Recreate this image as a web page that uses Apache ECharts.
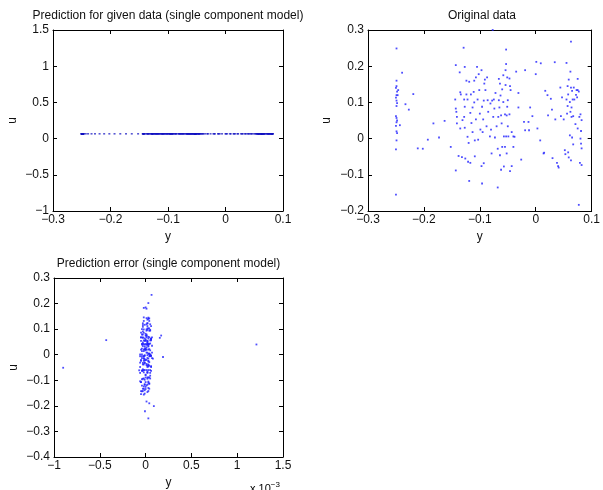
<!DOCTYPE html>
<html>
<head>
<meta charset="utf-8">
<script src="https://cdn.jsdelivr.net/npm/echarts@6/dist/echarts.min.js"></script>
<style>
  html, body { margin: 0; padding: 0; background: #fff; }
  #chart { width: 603px; height: 490px; }
</style>
</head>
<body>
<div id="chart"></div>
<script>
// Measured samples, one row per sample: [y, u, y prediction error (x 1e-3)]
const samplesLeft = [
  [-0.249, 0.249, -0.02], [-0.249, 0.160, 0.04], [-0.249, 0.145, -0.03], [-0.250, 0.140, 0.01],
  [-0.248, 0.130, 0.06], [-0.249, 0.120, -0.05], [-0.250, 0.113, 0.02], [-0.249, 0.105, -0.01],
  [-0.248, 0.098, 0.03], [-0.249, 0.090, -0.04], [-0.250, 0.062, 0.05], [-0.249, 0.057, 0.19],
  [-0.248, 0.050, -0.02], [-0.249, 0.045, 0.00], [-0.250, 0.035, -0.06], [-0.249, 0.020, 0.03],
  [-0.248, 0.015, -0.90], [-0.249, -0.005, 0.02], [-0.250, -0.030, -0.04], [-0.250, -0.155, -0.007],
  [-0.246, 0.134, 0.07], [-0.247, 0.120, -0.01], [-0.243, 0.037, 0.04], [-0.239, 0.182, -0.03],
  [-0.233, 0.095, 0.01], [-0.227, 0.080, -0.02], [-0.219, 0.123, -0.43], [-0.211, -0.027, 0.05],
  [-0.202, -0.028, -0.03], [-0.193, -0.003, 0.02], [-0.183, 0.042, -0.05], [-0.173, 0.003, 0.06],
  [-0.163, 0.049, -0.01], [-0.152, -0.023, 0.03]
];

const samplesMid = [
  [-0.143, 0.203, 0.02], [-0.144, 0.108, -0.04], [-0.143, 0.083, 0.05], [-0.142, 0.074, 0.01],
  [-0.141, 0.060, -0.02], [-0.141, 0.042, 0.03], [-0.143, -0.088, -0.05], [-0.138, -0.048, 0.04],
  [-0.136, 0.183, -0.01], [-0.135, 0.128, 0.06], [-0.134, 0.122, 0.00], [-0.135, 0.028, -0.03],
  [-0.132, -0.051, 0.02], [-0.131, 0.051, 0.08], [-0.129, 0.251, 0.00], [-0.128, 0.060, -0.06],
  [-0.128, 0.108, 0.03], [-0.127, 0.198, -0.02], [-0.127, 0.088, 0.04], [-0.127, 0.030, 0.01],
  [-0.126, -0.055, -0.04], [-0.124, 0.160, 0.05], [-0.124, 0.122, -0.02], [-0.122, 0.108, 0.02],
  [-0.122, 0.005, -0.07], [-0.121, -0.064, 0.03], [-0.120, -0.012, 0.00], [-0.119, -0.117, 0.01],
  [-0.119, 0.157, -0.03], [-0.117, 0.071, 0.04], [-0.117, -0.067, -0.02], [-0.116, 0.122, 0.06],
  [-0.115, 0.043, -0.01], [-0.113, 0.018, 0.02], [-0.113, 0.086, -0.05], [-0.111, 0.129, 0.03],
  [-0.110, 0.160, 0.01], [-0.110, 0.100, -0.03], [-0.109, -0.005, 0.05], [-0.109, -0.049, -0.01],
  [-0.107, 0.169, 0.02], [-0.107, 0.053, -0.04], [-0.105, 0.198, 0.04], [-0.104, 0.108, 0.00],
  [-0.103, -0.003, -0.02], [-0.102, 0.178, 0.06], [-0.101, 0.134, -0.05], [-0.100, 0.069, 0.03],
  [-0.099, 0.025, 0.01], [-0.097, -0.076, -0.03], [-0.097, 0.189, 0.02], [-0.096, 0.088, -0.01],
  [-0.096, -0.124, 0.04], [-0.095, 0.018, -0.06], [-0.094, 0.053, 0.07], [-0.093, -0.068, 0.00],
  [-0.093, 0.105, 0.02], [-0.092, 0.152, -0.02], [-0.091, 0.163, 0.05], [-0.090, 0.134, 0.01],
  [-0.088, 0.034, -0.03], [-0.087, 0.169, 0.03], [-0.086, 0.106, -0.04], [-0.085, 0.074, 0.02],
  [-0.082, 0.006, 0.05], [-0.081, 0.097, -0.01], [-0.080, 0.025, 0.03], [-0.079, -0.041, -0.05],
  [-0.078, 0.105, 0.01], [-0.077, 0.300, 0.065], [-0.076, 0.060, -0.02], [-0.075, 0.108, 0.04],
  [-0.074, 0.083, 0.00], [-0.073, 0.003, -0.03], [-0.072, 0.126, 0.06], [-0.070, 0.034, -0.01],
  [-0.068, -0.135, 0.09], [-0.068, -0.028, 0.02], [-0.067, 0.060, -0.04], [-0.066, 0.106, 0.03],
  [-0.066, 0.165, -0.02], [-0.065, 0.086, 0.01], [-0.064, -0.046, 0.04], [-0.064, 0.152, -0.05],
  [-0.063, 0.119, 0.02], [-0.062, -0.086, -0.01], [-0.062, 0.064, 0.05], [-0.061, 0.042, -0.02],
  [-0.060, -0.023, 0.00], [-0.060, 0.136, 0.03], [-0.058, 0.175, -0.03], [-0.058, 0.101, 0.07],
  [-0.057, -0.077, -0.04], [-0.057, 0.006, 0.01], [-0.055, 0.067, -0.06], [-0.055, -0.023, 0.04],
  [-0.054, 0.189, 0.02], [-0.054, 0.148, 0.00], [-0.053, 0.246, 0.01], [-0.053, 0.206, 0.03],
  [-0.053, 0.006, -0.02], [-0.052, 0.064, 0.02], [-0.052, -0.041, -0.05], [-0.051, 0.169, 0.04],
  [-0.051, 0.088, 0.00], [-0.050, 0.106, 1.21], [-0.050, 0.034, -0.01], [-0.049, 0.006, 0.03],
  [-0.047, 0.166, -0.04], [-0.047, 0.067, 0.05], [-0.046, -0.090, -0.02], [-0.046, 0.145, 0.01],
  [-0.045, 0.134, -0.03], [-0.043, -0.076, 0.03], [-0.043, 0.018, 0.06], [-0.040, 0.006, -0.01],
  [-0.040, -0.023, 0.02], [-0.038, 0.005, -0.04], [-0.035, 0.185, 0.05], [-0.031, 0.126, 0.00],
  [-0.031, 0.086, 0.03], [-0.026, -0.058, -0.02], [-0.021, 0.046, 0.01], [-0.019, 0.189, -0.03],
  [-0.019, 0.023, 0.04], [-0.013, 0.046, -0.05], [-0.012, 0.023, 0.02], [-0.010, 0.086, -0.01],
  [-0.006, 0.062, 0.06], [0.000, 0.178, 0.02], [0.001, 0.212, -0.02], [0.003, 0.028, 0.03],
  [0.008, -0.005, -0.06], [0.009, 0.208, 0.04]
];

const samplesRight = [
  [0.014, -0.041, 0.00], [0.015, -0.039, 0.03], [0.017, 0.132, -0.03], [0.021, 0.120, 0.02],
  [0.022, 0.064, -0.01], [0.027, 0.110, 0.05], [0.029, 0.080, -0.04], [0.030, -0.054, 0.01],
  [0.034, 0.211, 0.03], [0.035, 0.053, -0.02], [0.038, -0.067, 0.04], [0.040, -0.076, -0.05],
  [0.041, -0.080, 0.02], [0.044, 0.141, 0.00], [0.045, 0.062, 0.06], [0.047, 0.114, -0.03],
  [0.050, 0.053, 0.02], [0.052, -0.032, -0.01], [0.053, -0.043, 0.03], [0.055, 0.108, -0.02],
  [0.055, 0.209, 0.01], [0.056, 0.069, 0.04], [0.057, 0.145, -0.04], [0.057, 0.090, 0.00],
  [0.058, 0.122, 0.05], [0.058, -0.038, -0.06], [0.059, 0.163, 0.02], [0.059, -0.052, -0.01],
  [0.061, 0.101, 0.03], [0.061, 0.009, -0.03], [0.062, 0.185, 0.01], [0.062, 0.074, 0.07],
  [0.063, 0.268, 0.03], [0.063, 0.141, 0.17], [0.063, -0.060, 0.00], [0.064, 0.086, -0.02],
  [0.064, 0.060, 0.04], [0.065, 0.132, 0.155], [0.065, 0.003, -0.04], [0.066, 0.108, 0.02],
  [0.067, 0.062, -0.01], [0.067, -0.016, 0.05], [0.068, 0.141, 0.01], [0.069, 0.108, -0.03],
  [0.071, 0.040, 0.03], [0.072, 0.121, 0.00], [0.073, 0.134, -0.05], [0.074, 0.114, 0.02],
  [0.075, 0.134, 0.04], [0.075, 0.028, -0.02], [0.075, 0.165, 0.01], [0.077, 0.130, -0.01],
  [0.077, -0.183, 0.03], [0.078, 0.060, 0.05], [0.079, -0.067, -0.03], [0.080, 0.000, 0.02],
  [0.080, 0.067, -0.04], [0.081, 0.021, 0.06], [0.081, -0.014, 0.00], [0.082, -0.027, -0.02],
  [0.082, 0.051, 0.03], [0.082, -0.073, -0.01]
];

// Single component model: one constant prediction of u
const predU = 0.066;

// Axis ranges: [min, max, interval]
const predXRange = [-0.3, 0.1, 0.1];
const predYRange = [-1, 1.5, 0.5];
const origXRange = [-0.3, 0.1, 0.1];
const origYRange = [-0.2, 0.3, 0.1];
const errXRange = [-1, 1.5, 0.5];
const errYRange = [-0.4, 0.3, 0.1];

const titles = [
  'Prediction for given data (single component model)',
  'Original data',
  'Prediction error (single component model)'
];

const samples = samplesLeft.concat(samplesMid, samplesRight);
const predData = samples.map(s => [s[0], predU]);
const origData = samples.map(s => [s[0], s[1]]);
const errData = samples.map(s => [s[2], s[1] - predU]);

const FONT = 'Liberation Sans, Arial, Helvetica, sans-serif';
const FS = 12;
const INK = '#111';
const minusFmt = v => {
  const r = Math.round(v * 1e6) / 1e6;
  return String(r).replace('-', '\u2212');
};

const grids = [
  { left: 53, top: 30, width: 230, height: 181 },
  { left: 368, top: 30, width: 228, height: 181 },
  { left: 54, top: 278, width: 229, height: 180 }
];

const xAxes = [];
const yAxes = [];
const ranges = [[predXRange, predYRange], [origXRange, origYRange], [errXRange, errYRange]];
const yNameGaps = [34, 35, 34];

ranges.forEach((rg, i) => {
  const [xr, yr] = rg;
  ['bottom', 'top'].forEach(pos => {
    xAxes.push({
      type: 'value', gridIndex: i, position: pos,
      min: xr[0], max: xr[1], interval: xr[2],
      name: pos === 'bottom' ? 'y' : '',
      nameLocation: 'middle', nameGap: 20,
      nameTextStyle: { fontFamily: FONT, fontSize: FS, color: INK },
      axisLine: { show: true, onZero: false, lineStyle: { color: '#000', width: 1 } },
      axisTick: { show: true, inside: true, length: 4, lineStyle: { color: '#000' } },
      axisLabel: { show: pos === 'bottom', margin: 3, fontFamily: FONT, fontSize: FS, color: INK, formatter: minusFmt },
      splitLine: { show: false }
    });
  });
  ['left', 'right'].forEach(pos => {
    yAxes.push({
      type: 'value', gridIndex: i, position: pos,
      min: yr[0], max: yr[1], interval: yr[2],
      name: pos === 'left' ? 'u' : '',
      nameLocation: 'middle', nameGap: yNameGaps[i], nameRotate: 90,
      nameTextStyle: { fontFamily: FONT, fontSize: FS, color: INK },
      axisLine: { show: true, onZero: false, lineStyle: { color: '#000', width: 1 } },
      axisTick: { show: true, inside: true, length: 4, lineStyle: { color: '#000' } },
      axisLabel: { show: pos === 'left', margin: 4, fontFamily: FONT, fontSize: FS, color: INK, formatter: minusFmt },
      splitLine: { show: false }
    });
  });
});

const dotStyle = { color: '#2020ff' };
const series = [predData, origData, errData].map((d, i) => ({
  type: 'scatter',
  xAxisIndex: i * 2,
  yAxisIndex: i * 2,
  data: d,
  symbol: 'rect',
  symbolSize: i === 0 ? [2, 1.4] : 1.8,
  itemStyle: i === 0 ? { color: '#1010c0' } : dotStyle,
  silent: true,
  animation: false
}));

const titleY = [16, 16, 264];
const titleGraphics = titles.map((t, i) => ({
  type: 'text',
  x: grids[i].left + grids[i].width / 2,
  y: titleY[i],
  style: {
    text: t, fill: INK, font: FS + 'px ' + FONT,
    textAlign: 'center', textVerticalAlign: 'middle'
  }
}));

const chart = echarts.init(document.getElementById('chart'), null, { renderer: 'canvas' });
chart.setOption({
  animation: false,
  backgroundColor: '#fff',
  grid: grids,
  xAxis: xAxes,
  yAxis: yAxes,
  series: series,
  graphic: titleGraphics.concat([
    {
      type: 'text', x: 250, y: 481,
      style: {
        text: '{b|x 10}{s|\u22123}',
        rich: {
          b: { fontSize: 11, fontFamily: FONT, color: INK },
          s: { fontSize: 8, fontFamily: FONT, color: INK, verticalAlign: 'top', padding: [0, 0, 8, 0] }
        }
      }
    }
  ])
});
</script>
</body>
</html>
